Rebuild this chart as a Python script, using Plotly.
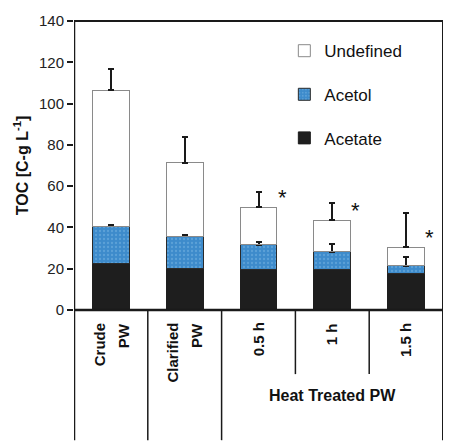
import plotly.graph_objects as go

categories = ["Crude PW", "Clarified PW", "0.5 h", "1 h", "1.5 h"]
label_lines = [["Crude", "PW"], ["Clarified", "PW"], ["0.5 h"], ["1 h"], ["1.5 h"]]
acetate = [22.3, 19.9, 19.4, 19.6, 17.8]
acetol = [18.2, 15.8, 12.1, 8.6, 3.7]
acetol_err = [0.6, 0.8, 1.6, 4.0, 4.0]
undefined = [65.9, 35.6, 18.2, 15.3, 8.9]
undefined_err = [10.5, 12.6, 7.3, 8.5, 16.4]
significant = [False, False, True, True, True]
group_label = "Heat Treated PW"

x = list(range(len(categories)))
totals = [a + b + c for a, b, c in zip(acetate, acetol, undefined)]

font_family = "Liberation Sans, Arial, sans-serif"
line_col = "#1a1a1a"
bar_edge = "#8a8a8a"

fig = go.Figure()
fig.add_trace(go.Bar(
    x=x, y=acetate, name="Acetate", legendgroup="c", legendrank=3,
    marker=dict(color="#1e1e1e", line=dict(color="#1e1e1e", width=1)),
))
fig.add_trace(go.Bar(
    x=x, y=acetol, name="Acetol", legendgroup="b", legendrank=2,
    marker=dict(color="#3d8bcb", line=dict(color="#2a2a2a", width=1),
                pattern=dict(shape=".", fgcolor="#7ab5e3", bgcolor="#3d8bcb",
                             size=4, solidity=0.25)),
    error_y=dict(type="data", array=acetol_err, arrayminus=[0]*5, symmetric=False,
                 color=line_col, thickness=2, width=3),
))
fig.add_trace(go.Bar(
    x=x, y=undefined, name="Undefined", legendgroup="a", legendrank=1,
    marker=dict(color="rgba(255,255,255,0)", line=dict(color=bar_edge, width=1)),
    error_y=dict(type="data", array=undefined_err, arrayminus=[0]*5, symmetric=False,
                 color=line_col, thickness=2, width=3),
))

bottom = -132 / 293
shapes = []
shapes.append(dict(type="line", xref="x", yref="paper", x0=-0.5, x1=-0.5, y0=bottom, y1=1,
                   line=dict(color=line_col, width=2.5)))
shapes.append(dict(type="line", xref="x", yref="paper", x0=4.5, x1=4.5, y0=bottom, y1=1,
                   line=dict(color=line_col, width=2)))
shapes.append(dict(type="line", xref="x", yref="paper", x0=-0.5, x1=4.5, y0=1, y1=1,
                   line=dict(color=line_col, width=2)))
shapes.append(dict(type="line", xref="x", yref="paper", x0=-0.5, x1=4.5, y0=0, y1=0,
                   line=dict(color=line_col, width=2.5)))
for sx in [0.5, 1.5]:
    shapes.append(dict(type="line", xref="x", yref="paper", x0=sx, x1=sx, y0=bottom, y1=0,
                       line=dict(color=line_col, width=1.5)))
for sx in [2.5, 3.5]:
    shapes.append(dict(type="line", xref="x", yref="paper", x0=sx, x1=sx, y0=-65 / 293, y1=0,
                       line=dict(color=line_col, width=1.5)))

annotations = []
for i, lines in enumerate(label_lines):
    n = len(lines)
    for j, t in enumerate(lines):
        shift = (j - (n - 1) / 2) * 24
        annotations.append(dict(
            x=i, y=-11 / 293, xref="x", yref="paper", text="<b>" + t + "</b>", textangle=-90,
            showarrow=False, xanchor="center", yanchor="top", xshift=shift,
            font=dict(family=font_family, size=15, color="#111"),
        ))
annotations.append(dict(
    x=3, y=-87 / 293, xref="x", yref="paper", text="<b>" + group_label + "</b>",
    showarrow=False, xanchor="center", yanchor="middle",
    font=dict(family=font_family, size=16, color="#111"),
))
for i, s in enumerate(significant):
    if s:
        annotations.append(dict(
            x=i + 0.32, y=totals[i], xref="x", yref="y", text="*",
            showarrow=False, xanchor="center", yanchor="middle", yshift=10,
            font=dict(family=font_family, size=22, color="#111"),
        ))

fig.update_layout(
    width=461, height=442,
    margin=dict(l=74, r=18, t=17, b=132),
    paper_bgcolor="white", plot_bgcolor="white",
    barmode="stack", bargap=0.5,
    font=dict(family=font_family, color="#111"),
    showlegend=True,
    legend=dict(x=0.57, y=0.958, xanchor="left", yanchor="top",
                traceorder="grouped", tracegroupgap=18.5,
                font=dict(size=17, family=font_family, color="#111"),
                bgcolor="rgba(0,0,0,0)", itemwidth=30),
    xaxis=dict(range=[-0.5, 4.5], showticklabels=False, ticks="", showgrid=False,
               zeroline=False, showline=False),
    yaxis=dict(range=[0, 140], tickvals=[0, 20, 40, 60, 80, 100, 120, 140],
               ticks="outside", ticklen=6, tickwidth=2, tickcolor=line_col,
               showgrid=False, zeroline=False, showline=False,
               tickfont=dict(size=15, family=font_family, color="#222"),
               title=dict(text="<b>TOC [C-g L<sup>-1</sup>]</b>", standoff=6,
                          font=dict(size=16, family=font_family, color="#111"))),
    shapes=shapes, annotations=annotations,
)

fig.write_html("out.html")
